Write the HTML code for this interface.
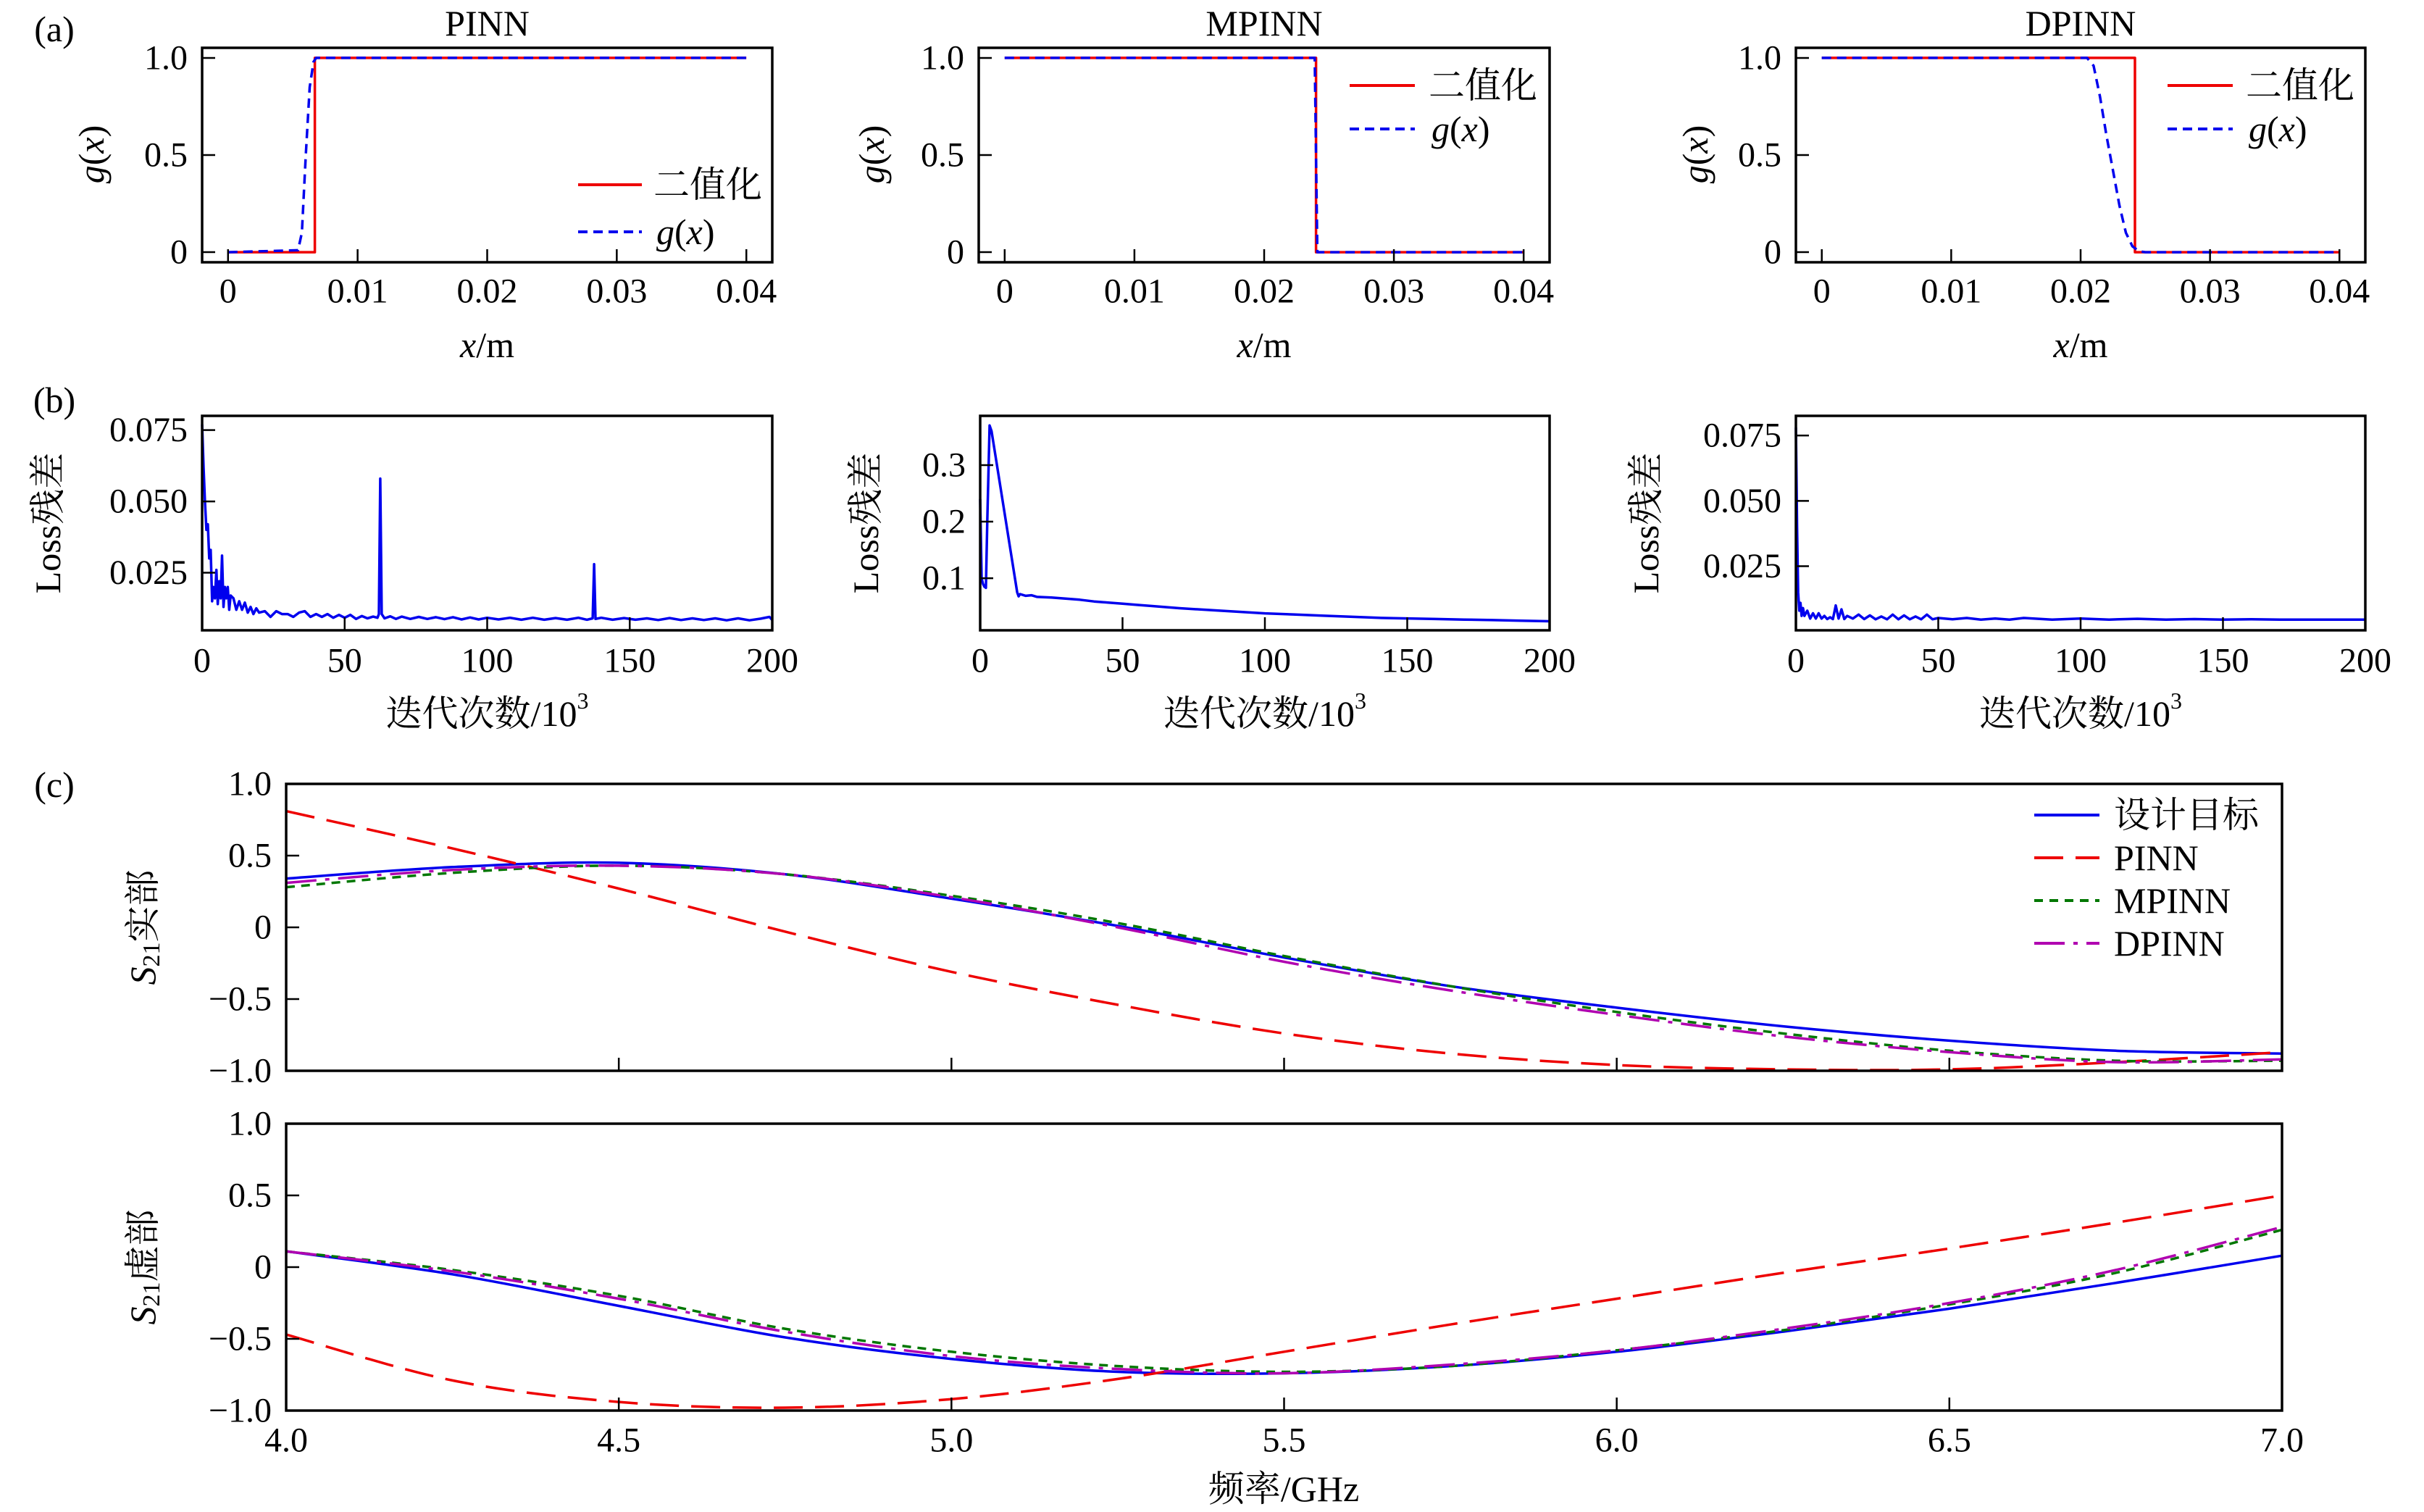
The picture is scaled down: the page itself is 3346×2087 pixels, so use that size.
<!DOCTYPE html>
<html><head><meta charset="utf-8"><style>
html,body{margin:0;padding:0;background:#fff;}
svg{display:block;font-family:"Liberation Serif","Noto Serif CJK SC","Noto Sans CJK SC",serif;}
</style></head><body>
<svg id="fig" width="3346" height="2087" viewBox="0 0 3346 2087" xmlns="http://www.w3.org/2000/svg"></svg>
<script>
// ---- data: panel (a) topology g(x) ----
const gPinnBinX=[0,0.0067,0.0067,0.04], gPinnBinY=[0,0,1,1];
const gPinnX=[0,0.0054,0.0057,0.006,0.0063,0.0066,0.0068,0.04], gPinnY=[0,0.01,0.1,0.5,0.85,0.98,1,1];
const gMpinnBinX=[0,0.024,0.024,0.04], gMpinnBinY=[1,1,0,0];
const gMpinnX=[0,0.0239,0.0241,0.04], gMpinnY=[1,1,0,0];
const gDpinnBinX=[0,0.0242,0.0242,0.04], gDpinnBinY=[1,1,0,0];
const gDpinnX=[0,0.0205,0.021,0.0215,0.022,0.0225,0.023,0.0235,0.024,0.0245,0.025,0.04], gDpinnY=[1,1,0.96,0.8,0.6,0.42,0.24,0.1,0.03,0.005,0,0];
const gXTicks=[0,0.01,0.02,0.03,0.04], gXTickLabels=["0","0.01","0.02","0.03","0.04"];
const gYTicks=[0,0.5,1], gYTickLabels=["0","0.5","1.0"];
// ---- data: panel (b) loss ----
const lossPinnX=[0,0.5,1,1.5,2,2.5,3,3.5,4,4.5,5,5.5,6,6.5,7,7.5,8,8.5,9,9.5,10,11,12,13,14,15,16,17,18,19,20,22,24,26,28,30,32,34,36,38,40,42,44,46,48,50,52,54,56,58,60,61.5,62,62.5,63,64,66,68,70,73,76,79,82,85,88,91,94,97,100,104,108,112,116,120,124,128,132,135,137,137.5,138,140,144,148,152,156,160,164,168,172,176,180,184,188,192,196,199,200];
const lossPinnY=[0.077,0.062,0.05,0.04,0.042,0.03,0.033,0.015,0.02,0.016,0.026,0.014,0.022,0.016,0.031,0.013,0.02,0.016,0.02,0.012,0.017,0.016,0.012,0.015,0.012,0.0145,0.011,0.013,0.0105,0.0125,0.011,0.0115,0.0095,0.0115,0.0105,0.0105,0.0095,0.011,0.0115,0.0095,0.0105,0.0095,0.0105,0.0092,0.0102,0.0092,0.0102,0.0088,0.0098,0.009,0.0096,0.0092,0.0105,0.058,0.0105,0.009,0.0097,0.0088,0.0096,0.0088,0.0095,0.0088,0.0094,0.0087,0.0094,0.0086,0.0093,0.0086,0.0092,0.0086,0.0092,0.0085,0.0092,0.0085,0.0091,0.0085,0.0092,0.0085,0.009,0.028,0.0088,0.0092,0.0085,0.0091,0.0085,0.009,0.0084,0.0091,0.0084,0.009,0.0084,0.009,0.0083,0.009,0.0083,0.0089,0.0095,0.0084];
const lossMpinnX=[0,0.5,1,1.5,2,2.5,3.3,4,13,13.5,14,16,18,20,25,30,35,40,45,50,55,60,70,80,90,100,110,120,130,140,150,160,170,180,190,200];
const lossMpinnY=[0.24,0.1,0.09,0.085,0.083,0.2,0.37,0.36,0.075,0.068,0.072,0.069,0.070,0.067,0.066,0.064,0.062,0.059,0.057,0.055,0.053,0.051,0.047,0.044,0.041,0.038,0.036,0.034,0.032,0.030,0.029,0.028,0.027,0.026,0.025,0.024];
const lossDpinnX=[0,0.4,0.8,1.2,1.6,2,2.5,3,4,5,6,7,8,9,10,11,12,13,14,15,16,17,18,20,22,24,26,28,30,32,34,36,38,40,42,44,46,48,50,55,60,65,70,75,80,90,100,110,120,130,140,150,160,170,180,190,200];
const lossDpinnY=[0.078,0.04,0.015,0.008,0.011,0.006,0.009,0.006,0.008,0.005,0.007,0.005,0.007,0.005,0.006,0.0048,0.0055,0.0048,0.01,0.005,0.0085,0.0048,0.006,0.005,0.0065,0.0048,0.0062,0.0047,0.0058,0.0047,0.0065,0.0047,0.0062,0.0047,0.0058,0.0047,0.0065,0.0047,0.0052,0.0047,0.0052,0.0046,0.005,0.0046,0.0052,0.0046,0.005,0.0046,0.0049,0.0046,0.0048,0.0046,0.0047,0.0046,0.0046,0.0046,0.0046];
const lossXTicks=[0,50,100,150,200];
const lossPinnYTicks=[0.025,0.05,0.075], lossPinnYLabels=["0.025","0.050","0.075"];
const lossMpinnYTicks=[0.1,0.2,0.3], lossMpinnYLabels=["0.1","0.2","0.3"];
const lossDpinnYTicks=[0.025,0.05,0.075], lossDpinnYLabels=["0.025","0.050","0.075"];
// ---- data: panel (c) S21 ----
const freq=[4.0,4.25,4.5,4.75,5.0,5.25,5.5,5.75,6.0,6.25,6.5,6.75,7.0];
const reTarget=[0.34,0.42,0.45,0.37,0.20,0.01,-0.21,-0.41,-0.56,-0.69,-0.79,-0.86,-0.88];
const rePinn=[0.81,0.55,0.27,-0.03,-0.31,-0.54,-0.74,-0.88,-0.96,-0.99,-0.99,-0.94,-0.87];
const reMpinn=[0.28,0.38,0.43,0.37,0.22,0.03,-0.20,-0.41,-0.59,-0.74,-0.86,-0.93,-0.93];
const reDpinn=[0.31,0.40,0.43,0.37,0.21,0.00,-0.24,-0.44,-0.61,-0.76,-0.87,-0.94,-0.92];
const imTarget=[0.11,-0.05,-0.27,-0.49,-0.64,-0.73,-0.74,-0.69,-0.59,-0.45,-0.29,-0.11,0.08];
const imPinn=[-0.47,-0.79,-0.94,-0.98,-0.92,-0.78,-0.59,-0.40,-0.22,-0.04,0.13,0.31,0.50];
const imMpinn=[0.11,-0.02,-0.20,-0.43,-0.59,-0.69,-0.73,-0.69,-0.58,-0.44,-0.26,-0.04,0.26];
const imDpinn=[0.11,-0.03,-0.22,-0.45,-0.62,-0.71,-0.74,-0.68,-0.58,-0.43,-0.25,-0.02,0.28];
const freqTicks=[4.0,4.5,5.0,5.5,6.0,6.5,7.0], freqTickLabels=["4.0","4.5","5.0","5.5","6.0","6.5","7.0"];
const sYTicks=[-1,-0.5,0,0.5,1], sYTickLabels=["\u22121.0","\u22120.5","0","0.5","1.0"];

const NS="http://www.w3.org/2000/svg";
const svg=document.getElementById('fig');
const FS=48;
function mk(tag,attrs,parent){const e=document.createElementNS(NS,tag);for(const k in attrs)e.setAttribute(k,attrs[k]);(parent||svg).appendChild(e);return e;}
function txt(s,x,y,size,parent,anchor,extra){const t=mk('text',Object.assign({x:x,y:y,'font-size':size,'text-anchor':anchor||'middle','dominant-baseline':'central',fill:'#000'},extra||{}),parent);t.textContent=s;return t;}

function axes(name,L,R,T,B,xlim,ylim){
  const g=mk('g',{});
  
  
  const sx=v=>L+(v-xlim[0])/(xlim[1]-xlim[0])*(R-L);
  const sy=v=>B-(v-ylim[0])/(ylim[1]-ylim[0])*(B-T);
  return {g,sx,sy,L,R,T,B};
}
function frame(ax){
  const r=mk('rect',{x:ax.L,y:ax.T,width:ax.R-ax.L,height:ax.B-ax.T,fill:'none',stroke:'#000','stroke-width':3.5},ax.g);
  
  
}
function xticks(ax,vals,labels,ly,size,name){
  vals.forEach((v,i)=>{
    const x=ax.sx(v);
    const l=mk('line',{x1:x,x2:x,y1:ax.B,y2:ax.B-18,stroke:'#000','stroke-width':2.5},ax.g);
    
    
    if(labels){const t=txt(labels[i],x,ly,size,ax.g);
      
      }
  });
}
function yticks(ax,vals,labels,size){
  vals.forEach((v,i)=>{
    const y=ax.sy(v);
    const l=mk('line',{x1:ax.L,x2:ax.L+18,y1:y,y2:y,stroke:'#000','stroke-width':2.5},ax.g);
    
    
    const t=txt(labels[i],ax.L-20,y,size,ax.g,'end');
    
    
  });
}
function line(ax,xs,ys,color,dash,name,w,smooth){
  const P=xs.map((x,i)=>[ax.sx(x),ax.sy(ys[i])]);
  let d='M'+P[0][0].toFixed(1)+','+P[0][1].toFixed(1);
  for(let i=1;i<P.length;i++){
    if(smooth){
      const p0=P[Math.max(i-2,0)],p1=P[i-1],p2=P[i],p3=P[Math.min(i+1,P.length-1)];
      const c1=[p1[0]+(p2[0]-p0[0])/6,p1[1]+(p2[1]-p0[1])/6];
      const c2=[p2[0]-(p3[0]-p1[0])/6,p2[1]-(p3[1]-p1[1])/6];
      d+='C'+c1[0].toFixed(1)+','+c1[1].toFixed(1)+' '+c2[0].toFixed(1)+','+c2[1].toFixed(1)+' '+p2[0].toFixed(1)+','+p2[1].toFixed(1);
    } else d+='L'+P[i][0].toFixed(1)+','+P[i][1].toFixed(1);
  }
  const p=mk('path',{d:d,fill:'none',stroke:color,'stroke-width':w||4,'stroke-linejoin':'round'},ax.g);
  if(dash)p.setAttribute('stroke-dasharray',dash);
  
  
  return p;
}
function legendEntry(parent,x1,x2,tx,y,color,dash,label,size,italic){
  const g=mk('g',{},parent);
  
  
  const l=mk('line',{x1:x1,x2:x2,y1:y,y2:y,stroke:color,'stroke-width':4},g);
  if(dash)l.setAttribute('stroke-dasharray',dash);
  const t=txt(label,tx,y,size,g,'start',italic?{'font-style':'italic'}:{});
  return t;
}
function yLabel(parent,s,x,y,size,name){
  const t=txt(s,x,y,size,parent,'middle',{transform:`rotate(-90 ${x} ${y})`});
  
  
  return t;
}

// panel labels
[['(a)',75,40],['(b)',75,552],['(c)',75,1083]].forEach(p=>{const t=txt(p[0],p[1],p[2],50,svg);
  
  });

// ---- panel (a) ----
const aPanels=[
  {name:'pinn-topology-plot',title:'PINN',L:279,R:1066,bx:gPinnBinX,by:gPinnBinY,gx:gPinnX,gy:gPinnY,leg:[798,886,902,255,320],yl:126},
  {name:'mpinn-topology-plot',title:'MPINN',L:1351,R:2139,bx:gMpinnBinX,by:gMpinnBinY,gx:gMpinnX,gy:gMpinnY,leg:[1863,1953,1972,118,178],yl:1203},
  {name:'dpinn-topology-plot',title:'DPINN',L:2479,R:3265,bx:gDpinnBinX,by:gDpinnBinY,gx:gDpinnX,gy:gDpinnY,leg:[2992,3082,3100,118,178],yl:2340},
];
aPanels.forEach(p=>{
  const ax=axes(p.name,p.L,p.R,66,362,[-0.002,0.042],[-0.052,1.052]);
  line(ax,p.bx,p.by,'#ee0000',null,'binarized-line',3.5);
  line(ax,p.gx,p.gy,'#0000ee','13 8','g-x-line',3.5);
  frame(ax);
  xticks(ax,gXTicks,gXTickLabels,402,FS);
  yticks(ax,gYTicks,gYTickLabels,FS);
  const t=txt(p.title,(p.L+p.R)/2,32,50,ax.g);
  
  
  const xl=txt('',(p.L+p.R)/2,476,50,ax.g);
  xl.innerHTML='<tspan font-style="italic">x</tspan>/m';
  
  
  const yl=txt('',p.yl,213,50,ax.g,'middle',{transform:`rotate(-90 ${p.yl} 213)`});
  yl.innerHTML='<tspan font-style="italic">g</tspan>(<tspan font-style="italic">x</tspan>)';
  
  
  const lg=mk('g',{},ax.g);
  
  
  legendEntry(lg,p.leg[0],p.leg[1],p.leg[2],p.leg[3],'#ee0000',null,'二值化',50);
  const e=legendEntry(lg,p.leg[0],p.leg[1],p.leg[2]+4,p.leg[4],'#0000ee','13 8','',50);
  e.innerHTML='<tspan font-style="italic">g</tspan>(<tspan font-style="italic">x</tspan>)';
});

// ---- panel (b) ----
const bPanels=[
  {name:'pinn-loss-plot',L:279,R:1066,xs:lossPinnX,ys:lossPinnY,yl:[0.0048,0.080],yt:lossPinnYTicks,ytl:lossPinnYLabels,lab:66},
  {name:'mpinn-loss-plot',L:1353,R:2139,xs:lossMpinnX,ys:lossMpinnY,yl:[0.008,0.387],yt:lossMpinnYTicks,ytl:lossMpinnYLabels,lab:1195},
  {name:'dpinn-loss-plot',L:2479,R:3265,xs:lossDpinnX,ys:lossDpinnY,yl:[0.0005,0.0825],yt:lossDpinnYTicks,ytl:lossDpinnYLabels,lab:2272},
];
bPanels.forEach(p=>{
  const ax=axes(p.name,p.L,p.R,574,870,[0,200],p.yl);
  line(ax,p.xs,p.ys,'#0000ee',null,'loss-line',3.5);
  frame(ax);
  xticks(ax,lossXTicks,lossXTicks.map(String),912,FS);
  yticks(ax,p.yt,p.ytl,FS);
  const xl=txt('',(p.L+p.R)/2,985,50,ax.g);
  xl.innerHTML='迭代次数/10<tspan font-size="32" dy="-18">3</tspan>';
  
  
  yLabel(ax.g,'Loss残差',p.lab,722,50,'y-axis-title');
});

// ---- panel (c) ----
const cPanels=[
  {name:'s21-real-plot',T:1082,B:1478,series:[reTarget,rePinn,reMpinn,reDpinn],lab:'实部',xl:false},
  {name:'s21-imag-plot',T:1551,B:1947,series:[imTarget,imPinn,imMpinn,imDpinn],lab:'虚部',xl:true},
];
const cStyles=[['#0000ee',null,'target-line'],['#ee0000','40 17','pinn-line'],['#007700','12 9','mpinn-line'],['#b000b0','42 12 6 12','dpinn-line']];
cPanels.forEach(p=>{
  const ax=axes(p.name,395,3150,p.T,p.B,[4,7],[-1,1]);
  p.series.forEach((s,i)=>line(ax,freq,s,cStyles[i][0],cStyles[i][1],cStyles[i][2],3.5,true));
  frame(ax);
  xticks(ax,freqTicks,p.xl?freqTickLabels:null,1988,FS);
  yticks(ax,sYTicks,sYTickLabels,FS);
  const cy=(p.T+p.B)/2;
  const yl=txt('',197,cy,50,ax.g,'middle',{transform:`rotate(-90 197 ${cy})`});
  yl.innerHTML='<tspan font-style="italic">S</tspan><tspan font-size="34" dy="12">21</tspan><tspan dy="-12">'+p.lab+'</tspan>';
  
  
  if(p.xl){const t=txt('频率/GHz',1772,2055,50,ax.g);
    
    }
  else{
    const lg=mk('g',{},ax.g);
    
    
    const labels=['设计目标','PINN','MPINN','DPINN'];
    labels.forEach((s,i)=>legendEntry(lg,2808,2898,2918,1125+i*59,cStyles[i][0],cStyles[i][1],s,50));
  }
});
</script>
</body></html>
